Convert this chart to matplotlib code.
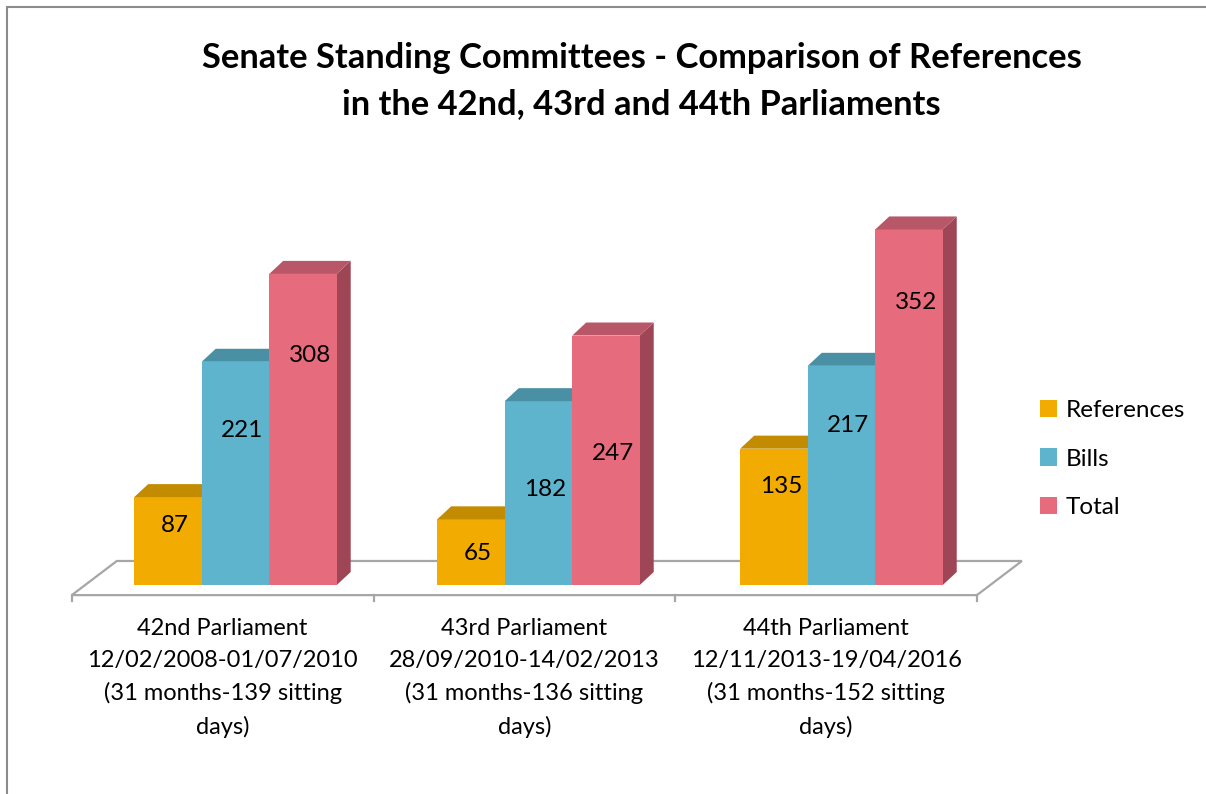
import matplotlib.pyplot as plt
from matplotlib.patches import Polygon, Rectangle
import numpy as np

categories = [
    "42nd Parliament\n12/02/2008-01/07/2010\n(31 months-139 sitting\ndays)",
    "43rd Parliament\n28/09/2010-14/02/2013\n(31 months-136 sitting\ndays)",
    "44th Parliament\n12/11/2013-19/04/2016\n(31 months-152 sitting\ndays)",
]
series_names = ["References", "Bills", "Total"]
references = [87, 65, 135]
bills = [221, 182, 217]
total = [308, 247, 352]

front_colors = ["#F2AB00", "#5FB4CD", "#E66B7D"]
top_colors = ["#C28B00", "#4A90A5", "#B75767"]
side_colors = ["#C28B00", "#4A90A5", "#9E4656"]

plt.rcParams['font.family'] = ['Lato', 'DejaVu Sans']

fig = plt.figure(figsize=(12.06, 7.94), dpi=100)
ax = fig.add_axes([0, 0, 1, 1])
ax.set_xlim(-0.777, 3.203)
ax.set_ylim(-206.9, 579.2)
ax.axis('off')

# 3D depth offsets (data units)
bw = 0.2228
ddx, ddy = 0.0462, 12.9
fdx, fdy = 0.1485, 33.8
f_left, f_right, f_front = -0.54, 2.447, -10

# floor
floor = Polygon([(f_left, f_front), (f_right, f_front),
                 (f_right + fdx, f_front + fdy), (f_left + fdx, f_front + fdy)],
                closed=True, facecolor='white', edgecolor='#A6A6A6', lw=1.6, zorder=1)
ax.add_patch(floor)
ticks = np.linspace(f_left, f_right, 4)
for t in ticks:
    ax.plot([t, t], [f_front, f_front - 6], color='#A6A6A6', lw=1.6, zorder=1)

data = [references, bills, total]
# where the value label sits, as a share of the bar height (Excel 3D placement)
label_frac = [[0.683, 0.487, 0.719],
              [0.694, 0.517, 0.730],
              [0.739, 0.529, 0.796]]
x = np.arange(len(categories))
handles = []
for j, vals in enumerate(data):
    xs = x + (j - 1) * bw
    b = ax.bar(xs, vals, width=bw, color=front_colors[j], zorder=3 + j,
               label=series_names[j], edgecolor='none')
    handles.append(b)
    for i, v in enumerate(vals):
        x0, x1 = xs[i] - bw / 2, xs[i] + bw / 2
        ax.add_patch(Polygon([(x0, v), (x1, v), (x1 + ddx, v + ddy), (x0 + ddx, v + ddy)],
                             closed=True, facecolor=top_colors[j], edgecolor='none', zorder=3 + j))
        ax.add_patch(Polygon([(x1, 0), (x1, v), (x1 + ddx, v + ddy), (x1 + ddx, ddy)],
                             closed=True, facecolor=side_colors[j], edgecolor='none', zorder=2 + j))
        ax.text(xs[i] + ddx / 2, v * label_frac[j][i], str(v), ha='center', va='center',
                fontsize=17.5, color='black', zorder=10)

# category labels
for i, lab in enumerate(categories):
    cx = (ticks[i] + ticks[i + 1]) / 2
    ax.text(cx, f_front - 22.5, lab, ha='center', va='top', fontsize=17, linespacing=1.63)

fig.text(0.532, 0.898,
         "Senate Standing Committees - Comparison of References\nin the 42nd, 43rd and 44th Parliaments",
         ha='center', va='center', fontsize=24.8, fontweight='bold', linespacing=1.52)

fig.legend(handles=handles, labels=series_names, loc='center left',
           bbox_to_anchor=(1040 / 1206, 1 - 459 / 794), frameon=False,
           fontsize=17.5, handlelength=0.7, handleheight=0.7, handletextpad=0.35,
           labelspacing=1.15, borderpad=0, borderaxespad=0)

fig.add_artist(Rectangle((7 / 1206, -0.1), 1.2, 1 - 7 / 794 + 0.1, transform=fig.transFigure,
                         fill=False, edgecolor='#8C8C8C', lw=1.5, clip_on=False))

fig.savefig('out.png', dpi=100)
